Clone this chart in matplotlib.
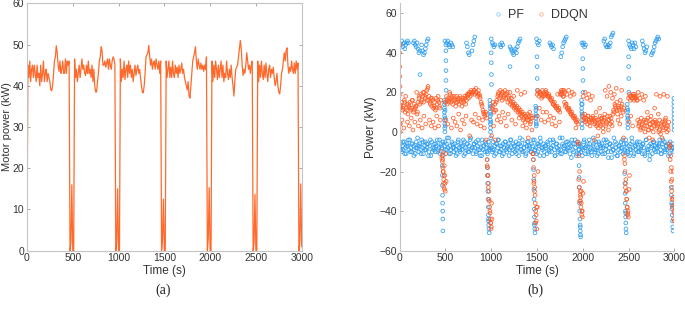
import numpy as np
import matplotlib
matplotlib.use("Agg")
import matplotlib.pyplot as plt
from matplotlib.lines import Line2D

plt.rcParams["font.family"] = ["Liberation Sans", "DejaVu Sans"]

# ---------- (a) motor power, one reading every 10 s ----------
motor_time_s = np.arange(0, 3001, 10)
motor_kw = [
    # 0 - 490
    0, 45, 42, 46, 41, 44, 45, 42, 45, 43,
    41, 45, 42, 43, 40, 45, 41, 43, 46, 41,
    43, 44, 41, 43, 42, 41, 39, 38.8, 40, 43,
    46, 47, 49.7, 48, 45, 43.5, 46, 43, 44, 46,
    43, 43, 46.5, 43, 46, 45, 46, 0, 2, 16,
    # 500 - 990
    0, 0, 46.5, 42, 44, 41, 43, 45, 42, 44,
    46.5, 44, 45, 43, 42.5, 45, 43, 46, 43, 44,
    42, 45, 41, 44, 40, 38.5, 38.5, 41, 43, 46,
    47, 49.5, 48.5, 45, 45, 46, 44.5, 45.5, 46.5, 44,
    46.5, 45, 44, 46, 47, 46.5, 45, 0, 2, 15,
    # 1000 - 1490
    0, 0, 46.5, 41, 44, 42, 46, 41.5, 44, 45,
    42, 46, 43, 45, 42, 44, 41, 43, 45, 42.5,
    44, 45, 43, 44, 42, 40, 38.5, 38.3, 40, 43,
    47, 47.5, 48, 49.8, 47, 45, 46.5, 44, 45.5, 46,
    44, 46.5, 45, 44, 46, 43, 46, 0, 3, 12.5,
    # 1500 - 1990
    0, 0, 46, 42, 44, 46, 42, 44.5, 42, 46,
    43, 42, 45, 43, 44.5, 42, 45, 43, 44, 45.5,
    43, 44, 42, 41, 40, 39, 41, 37.5, 37, 40,
    43, 46, 47, 48, 49.5, 46, 44, 46.5, 45, 44,
    45.5, 44, 45, 43.5, 45, 44, 47, 0, 3, 15.3,
    # 2000 - 2490
    0, 0, 46, 41, 45, 42, 46, 44, 41.5, 45,
    42, 44, 46, 42, 45, 41, 43, 42, 46, 43,
    41.5, 44, 42, 45, 42, 40, 37.5, 41, 44, 44.5,
    45, 47, 49, 51, 49, 45, 42.5, 44, 43, 45,
    48, 46, 44, 45, 43, 45, 46, 0, 2, 13.7,
    # 2500 - 3000
    0, 0, 46, 41, 45, 42, 46, 43, 41.5, 45,
    42, 45.5, 43, 41, 44, 45, 42, 44, 43, 44.5,
    42, 40, 41, 43, 40, 38.5, 38, 40, 43, 44,
    46, 48, 46, 48.5, 49.2, 45, 43, 44.5, 43.5, 46,
    44, 43, 45.5, 43, 46, 44, 45.5, 0, 2, 16.2,
    1,
]

# ---------- (b) power split, PF vs DDQN ----------
pf_low_time_s = np.arange(0, 3000, 10)
pf_low_kw = [
    -8, -6, -10, -7, -9, -5, -8, -11, -6, -7, -9, -4, -8, -10, -6, -7, -9, -11, -5, -8,
    -7, -10, -6, -9, -4, -8, -11, -7, -5, -9, -8, -6, -10, -7, -12, -5, -8, -9, -6, -10,
    -7, -4, -9, -8, -11, -6, -8, -5, -10, -7, -9, -6, -3, -8, -11, -7, -9, -5, -8, -10,
    -6, -9, -7, -11, -4, -8, -10, -6, -9, -7, -12, -5, -8, -9, -6, -10, -7, -4, -9, -8,
    -11, -6, -8, -5, -10, -7, -9, -6, -12, -8, -4, -9, -7, -10, -6, -8, -11, -5, -9, -7,
    -8, -10, -5, -9, -7, -11, -6, -8, -4, -10, -7, -9, -12, -6, -8, -5, -9, -10, -7, -6,
    -9, -4, -8, -11, -6, -7, -10, -5, -9, -8, -12, -6, -7, -9, -4, -10, -8, -6, -11, -7,
    -5, -9, -8, -10, -6, -7, -11, -4, -9, -8, -6, -10, -7, -12, -5, -8, -9, -6, -10, -7,
    -8, -11, -6, -9, -4, -8, -10, -7, -5, -9, -12, -6, -8, -10, -7, -3, -9, -11, -6, -8,
    -7, -10, -5, -9, -8, -6, -11, -7, -4, -9, -10, -6, -8, -12, -5, -7, -9, -6, -10, -8,
    -9, -5, -8, -11, -7, -6, -10, -4, -9, -8, -12, -7, -6, -10, -5, -9, -8, -11, -6, -7,
    -10, -6, -8, -4, -11, -9, -7, -5, -13, -8, -6, -10, -7, -9, -3, -11, -8, -6, -12, -9,
    -7, -10, -5, -8, -11, -6, -9, -4, -8, -10, -7, -12, -6, -9, -5, -8, -11, -7, -9, -6,
    -10, -8, -5, -9, -7, -11, -6, -8, -12, -4, -9, -10, -7, -14, -6, -8, -11, -5, -9, -7,
    -8, -6, -10, -7, -4, -9, -11, -6, -8, -5, -10, -7, -9, -6, -8, -11, -7, -9, -6, -8,
]

pf_low2_time_s = np.arange(15, 3000, 20)
pf_low2_kw = [
    -9, -5, -11, -7, -4, -10, -6, -12, -8, -3, -7, -11, -5, -9, -6, -12, -4, -10, -8, -6,
    -10, -4, -7, -12, -5, -9, -3, -11, -6, -8, -12, -5, -9, -7, -4, -11, -6, -10, -3, -8,
    -6, -11, -4, -9, -12, -7, -5, -10, -8, -3, -9, -12, -6, -4, -10, -7, -11, -5, -8, -12,
    -4, -9, -7, -11, -6, -3, -10, -8, -12, -5, -7, -10, -4, -9, -11, -6, -3, -8, -12, -7,
    -5, -10, -8, -4, -12, -6, -9, -11, -3, -7, -10, -5, -8, -13, -6, -4, -11, -9, -7, -12,
    -4, -8, -11, -6, -10, -3, -9, -12, -5, -8, -11, -7, -4, -10, -6, -13, -9, -5, -12, -7,
    -8, -4, -10, -6, -11, -9, -3, -12, -7, -5, -10, -8, -6, -11, -4, -9, -12, -7, -5, -10,
    -8, -6, -11, -4, -9, -7, -12, -5, -8, -10,
]

# PF samples when the engine branch runs high (time s, kW)
pf_high = [
    (15, 44), (25, 46), (35, 43), (45, 45), (55, 42), (65, 44), (75, 45), (85, 46), (95, 45),
    (150, 45), (160, 46), (170, 44), (180, 43), (190, 45), (200, 42), (210, 40), (220, 41),
    (240, 44), (250, 41), (260, 39), (270, 40), (280, 42), (290, 44), (300, 46), (310, 47),
    (495, 46), (505, 44), (515, 45), (525, 46), (535, 44), (545, 43),
    (560, 45), (570, 44), (580, 43),
    (730, 45), (740, 43), (750, 40), (760, 39),
    (790, 41), (800, 44), (810, 46), (820, 48),
    (1000, 47), (1010, 45), (1020, 44), (1030, 43), (1040, 44),
    (1095, 44), (1105, 43), (1115, 45), (1125, 44),
    (1205, 43), (1215, 42), (1225, 41), (1235, 40), (1245, 39), (1255, 41), (1265, 42),
    (1275, 40), (1285, 43), (1295, 45), (1305, 46), (1315, 47),
    (1495, 47), (1505, 45), (1515, 44), (1525, 46),
    (1640, 45), (1650, 44), (1660, 43), (1670, 44), (1680, 42),
    (1760, 38), (1770, 40), (1780, 43), (1790, 45), (1800, 46), (1810, 47), (1820, 48),
    (1990, 45), (2000, 44), (2010, 45), (2020, 43), (2030, 44),
    (2230, 46), (2240, 47), (2250, 44), (2260, 43), (2270, 43), (2280, 44), (2290, 43),
    (2300, 45), (2310, 48), (2320, 49), (2330, 50),
    (2500, 46), (2510, 44), (2520, 43), (2530, 42), (2540, 45), (2550, 44), (2560, 42),
    (2570, 45), (2580, 43),
    (2650, 46), (2660, 44), (2670, 42), (2680, 40), (2690, 41), (2700, 43),
    (2750, 39), (2760, 40), (2770, 41), (2780, 43), (2790, 45), (2800, 46), (2810, 47),
    (2820, 48), (2830, 47),
    (222, 29), (1205, 33), (1770, 19),
]

# PF samples around the stops (braking / restart streaks)
pf_stops = [
    (465, -17), (466, -22), (467, -27), (468, -32), (469, -36), (470, -40), (471, -44), (472, -50),
    (486, 16), (487, 14), (488, 12), (489, 10), (490, 8), (491, 6), (492, 4), (493, 2), (494, 0),
    (495, 15), (496, 11), (497, 7), (498, 3),
    (505, 41), (505, 36), (506, 31), (506, 26), (507, 21),
    (955, -14), (957, -18), (959, -22), (961, -26), (963, -30), (965, -34), (967, -38),
    (969, -42), (971, -45), (973, -47), (975, -49), (977, -51), (970, -44),
    (985, 16), (986, 14), (987, 12), (988, 10), (989, 8), (990, 6), (991, 4), (992, 2),
    (993, 0), (994, 13), (995, 9), (996, 5),
    (1000, 40), (1001, 35), (1002, 29), (1003, 24),
    (1460, -14), (1462, -19), (1464, -24), (1466, -29), (1468, -34), (1470, -39), (1472, -43),
    (1474, -46), (1476, -49), (1478, -51), (1471, -47),
    (1486, 13), (1487, 11), (1488, 9), (1489, 7), (1490, 5), (1491, 3), (1492, 12),
    (1493, 8), (1494, 4),
    (1500, 38), (1501, 33), (1502, 27), (1503, 21),
    (1955, -6), (1957, -11), (1959, -17), (1961, -23), (1963, -28), (1965, -36), (1967, -40),
    (1969, -44), (1971, -47), (1973, -50), (1975, -52), (1977, -53), (1972, -48),
    (1986, 16), (1987, 14), (1988, 12), (1989, 10), (1990, 8), (1991, 6), (1992, 4),
    (1993, 2), (1994, 14), (1995, 9),
    (2000, 37), (2001, 32), (2002, 26), (2003, 20),
    (2458, -21), (2460, -26), (2462, -31), (2464, -36), (2466, -40), (2468, -43), (2470, -46),
    (2472, -49), (2474, -51), (2469, -41),
    (2486, 14), (2487, 12), (2488, 10), (2489, 8), (2490, 6), (2491, 4), (2492, 2),
    (2493, 11), (2494, 7),
    (2500, 38), (2501, 33), (2502, 27), (2503, 20),
    (2965, -28), (2968, -32), (2971, -36), (2974, -39), (2977, -42), (2980, -45), (2983, -48),
    (2986, -50), (2975, -37),
    (2995, 17), (2995, 15), (2995, 13), (2996, 11), (2996, 9), (2996, 7), (2997, 5),
    (2997, 3), (2997, 1),
]

ddqn_main_time_s = np.arange(0, 3000, 10)
ddqn_main_kw = [
    14, 12, 15, 11, 13, 16, 10, 12, 14, 9, 13, 15, 11, 12, 16, 10, 14, 12, 13, 9,
    15, 17, 14, 19, 16, 18, 15, 20, 17, 19, 16, 23, 18, 15, 17, 13, 16, 12, 15, 11,
    17, 14, 18, 15, 12, 16, -13, -18, -24, -29, 15, 18, 14, 17, 16, 19, 15, 18, 14, 17,
    16, 13, 18, 15, 17, 14, 18, 16, 13, 17, 15, 18, 14, 16, 19, 17, 20, 18, 21, 19,
    20, 21, 19, 22, 20, 18, 21, 19, 17, 15, 13, 11, 9, 8, 10, 7, -18, -26, -35, -44,
    -48, 12, 15, 10, 14, 11, 16, 18, 20, 17, 21, 19, 16, 20, 18, 21, 17, 19, 15, 18,
    16, 14, 17, 13, 15, 12, 14, 11, 13, 10, 12, 9, 11, 8, 10, 6, 9, 5, 8, 7,
    9, 6, 10, 5, 8, 7, -14, -22, -32, -42, 19, 21, 18, 20, 19, 17, 21, 18, 20, 19,
    20, 19, 18, 19, 17, 16, 17, 15, 14, 15, 13, 12, 13, 11, 12, 10, 20, 19, 21, 18,
    15, 13, 14, 12, 11, 12, 10, 9, 10, 8, 7, 8, 6, 5, 6, 4, -28, -32, -38, -42,
    8, 6, 9, 5, 7, 4, 8, 6, 3, 7, 5, 8, 6, 4, 7, 3, 6, 2, 5, 8,
    4, 7, 2, 6, 9, 3, 5, 8, 1, 6, 4, 7, 3, 9, 10, 14, 12, 15, 9, 13,
    11, 16, 8, 14, 10, 12, -16, -24, -34, -42, 17, 19, 16, 18, 17, 19, 16, 18, 17, 16,
    6, 3, 5, 1, 7, 4, 2, 6, 0, 5, 3, 7, 1, 4, 6, 2, 5, 0, 3, 6,
    5, 2, 4, 0, 6, -1, 3, 5, 1, 4, 6, 2, 0, 3, 5, -8, -20, -30, -38, -44,
]

ddqn_side_time_s = np.arange(5, 3000, 20)
ddqn_side_kw = [
    4, 6, 2, 18, 5, 3, 7, 1, 5, 20, 3, 6, 2, 8, 4, 22, 6, 3, 5, 2,
    8, 3, 6, -15, -22, 6, 4, 20, 2, 7, 5, 3, 9, 1, 6, 4, 8, 19, -2, 6,
    5, 9, 4, 7, 3, 6, 2, -4, -22, -40, -2, 3, -4, 6, 8, 5, 10, 7, 3, 9,
    20, 6, 18, 4, 21, 7, 19, 3, 20, 2, -3, 4, 1, -26, -46, 8, 12, 6, 10, 5,
    10, 6, 8, 4, 7, 3, 19, 5, 21, 18, 20, 19, 21, 18, 20, 19, 2, -5, -35, -30,
    18, 20, 17, 19, 16, 18, -4, 10, -2, 12, 7, 0, 21, 18, 23, 20, 17, 19, 22, 6,
    4, 21, -3, -28, -38, 5, 8, 3, 19, 18, 20, 17, 19, 16, 18, 10, -3, 8, -4, 12,
    19, 9, 18, -3, 19, 7, 18, -6, -25, -34,
]

ddqn_side2_time_s = np.arange(15, 3000, 20)
ddqn_side2_kw = [
    13, 12, 15, 11, 14, 12, 16, 11, 13, 10, 18, 15, 20, 18, 21, 16, 14, 17, 13, 12,
    16, 13, -10, -20, -26, 16, 15, 17, 16, 18, 15, 16, 17, 15, 16, 17, 18, 19, 20, 20,
    21, 20, 19, 18, 14, 10, 9, -14, -30, -46, 13, 11, 15, 19, 18, 20, 17, 19, 20, 17,
    15, 14, 13, 12, 11, 10, 9, 7, 8, 6, 8, 7, -11, -28, -38, 20, 20, 18, 19, 21,
    18, 18, 16, 14, 13, 12, 11, 19, 20, 21, 14, 12, 11, 9, 8, 7, 5, -24, -35, -40,
    7, 6, 8, 5, 6, 7, 5, 4, 6, 3, 5, 7, 4, 6, 8, 5, 11, 13, 11, 12,
    13, 11, -12, -30, -40, 18, 17, 18, 17, 16, 4, 2, 5, 3, 6, 1, 4, 2, 5, 4,
    3, 1, 4, 2, 5, 3, 1, -14, -34, -40,
]

ddqn_stops = [
    (0, 44), (0, 40), (2, 33), (2, 28), (3, 23), (5, 19), (5, 4), (5, 0),
    (465, -12), (470, -14), (475, -20), (478, -26), (482, -28), (488, -17), (492, -22),
    (498, -30), (503, -11), (508, -25),
    (955, -17), (962, -22), (968, -28), (975, -34), (982, -38), (988, -41), (992, -46),
    (998, -49), (1003, -36), (1008, -44),
    (1455, -11), (1462, -18), (1468, -25), (1474, -30), (1480, -36), (1486, -40), (1492, -45),
    (1498, -49), (1504, -38), (1510, -20),
    (1950, -6), (1958, -12), (1965, -20), (1972, -30), (1978, -33), (1984, -36), (1990, -40),
    (1996, -43), (2002, -31), (2008, -25),
    (2455, -14), (2462, -20), (2468, -26), (2474, -30), (2480, -34), (2486, -38), (2492, -41),
    (2498, -43), (2504, -29), (2510, -22),
    (2955, -7), (2962, -12), (2968, -18), (2974, -24), (2980, -28), (2986, -33), (2992, -37),
    (2996, -41), (2999, -45), (2990, -20),
]

LINE_ORANGE = "#ff6a2c"
PF_BLUE = "#2b9cf0"
DDQN_ORANGE = "#ff5a22"
SPINE = "#c4c4c4"
TEXT = "#333333"


def style_axes(ax, box):
    for side in ["left", "bottom", "top", "right"]:
        ax.spines[side].set_color(SPINE)
        ax.spines[side].set_linewidth(0.8)
        if not box and side in ("top", "right"):
            ax.spines[side].set_visible(False)
    ax.tick_params(direction="in", length=2.5, width=0.6, color="#9a9a9a",
                   labelsize=7.5, labelcolor=TEXT, pad=2,
                   top=box, right=box)


fig = plt.figure(figsize=(6.85, 3.2), dpi=100)

# left panel
ax1 = fig.add_axes([0.0394, 0.2166, 0.401, 0.7731])
ax1.plot(motor_time_s, motor_kw, color=LINE_ORANGE, lw=0.9)
ax1.set_xlim(0, 3000)
ax1.set_ylim(0, 60)
ax1.set_xticks(range(0, 3001, 500))
ax1.set_yticks(range(0, 61, 10))
ax1.set_xlabel("Time (s)", fontsize=8.5, color=TEXT, labelpad=1)
ax1.set_ylabel("Motor power (kW)", fontsize=8, color=TEXT, labelpad=0.5)
style_axes(ax1, box=True)

# right panel
ax2 = fig.add_axes([0.5835, 0.2166, 0.4009, 0.7731])
scat = dict(s=7, facecolors="none", linewidths=0.6)
pf_t = (list(pf_low_time_s) + list(pf_low2_time_s)
        + [p[0] for p in pf_high] + [p[0] for p in pf_stops])
pf_v = (list(pf_low_kw) + list(pf_low2_kw)
        + [p[1] for p in pf_high] + [p[1] for p in pf_stops])
dq_t = (list(ddqn_main_time_s) + list(ddqn_side_time_s) + list(ddqn_side2_time_s)
        + [p[0] for p in ddqn_stops])
dq_v = (list(ddqn_main_kw) + list(ddqn_side_kw) + list(ddqn_side2_kw)
        + [p[1] for p in ddqn_stops])
ax2.scatter(pf_t, pf_v, edgecolors=PF_BLUE, alpha=0.9, **scat)
ax2.scatter(dq_t, dq_v, edgecolors=DDQN_ORANGE, alpha=0.9, **scat)
ax2.set_xlim(0, 3000)
ax2.set_ylim(-60, 65)
ax2.set_xticks(range(0, 3001, 500))
ax2.set_yticks(range(-60, 61, 20))
ax2.set_xlabel("Time (s)", fontsize=8.5, color=TEXT, labelpad=1)
ax2.set_ylabel("Power (kW)", fontsize=8.5, color=TEXT, labelpad=2)
style_axes(ax2, box=False)

handles = [
    Line2D([], [], ls="none", marker="o", ms=2.5, mfc="none", mec=PF_BLUE, mew=0.5, alpha=0.6),
    Line2D([], [], ls="none", marker="o", ms=2.5, mfc="none", mec=DDQN_ORANGE, mew=0.5, alpha=0.6),
]
ax2.legend(handles, ["PF", "DDQN"], loc="center", bbox_to_anchor=(0.51, 0.953),
           ncol=2, frameon=False, fontsize=9, handlelength=1.0,
           handletextpad=0.3, columnspacing=0.9, labelcolor=TEXT)

fig.text(163 / 685, 1 - 290 / 320, "(a)", ha="center", va="center",
         family=["Liberation Serif", "DejaVu Serif"], fontsize=10, color="#222222")
fig.text(535 / 685, 1 - 290 / 320, "(b)", ha="center", va="center",
         family=["Liberation Serif", "DejaVu Serif"], fontsize=10, color="#222222")

fig.savefig("out.png", dpi=100)
